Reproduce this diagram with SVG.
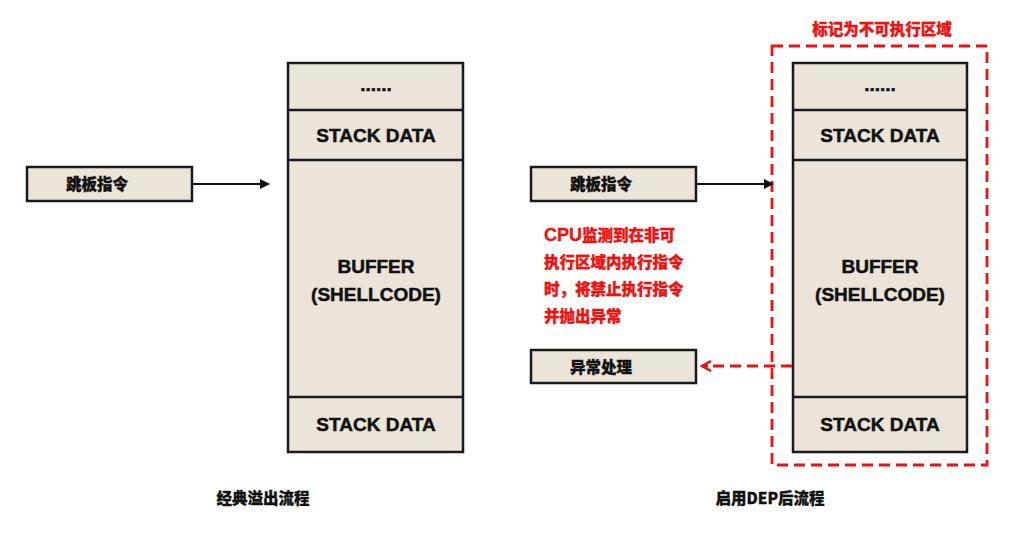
<svg xmlns="http://www.w3.org/2000/svg" width="1024" height="534" viewBox="0 0 1024 534">
<defs>
<style>
.box{fill:#EAE4D9;stroke:#1a1a1a;stroke-width:2.5}
.div{stroke:#1a1a1a;stroke-width:2.5}
.t{font-family:"Liberation Sans","Noto Sans CJK SC",Arial,sans-serif;font-weight:bold;fill:#111;stroke:#111;stroke-width:0.5;text-anchor:middle}
.cn{font-family:"Noto Sans CJK SC","Liberation Sans",sans-serif;font-weight:900;fill:#111;stroke:#111;stroke-width:0.3;text-anchor:middle}
.red{font-family:"Liberation Sans","Noto Sans CJK SC",sans-serif;font-weight:900;fill:#F01010;stroke:#F01010;stroke-width:0.3}
.conn{stroke:#111;stroke-width:2;fill:none}
.dash{stroke:#F01010;stroke-width:2.8;stroke-dasharray:11 6;fill:none}
</style>
<marker id="ah" markerWidth="10" markerHeight="10" refX="8" refY="5" orient="auto" markerUnits="userSpaceOnUse">
<path d="M0,0 L10,5 L0,10 Z" fill="#111"/>
</marker>
<marker id="ahr" markerWidth="12" markerHeight="12" refX="10" refY="6" orient="auto" markerUnits="userSpaceOnUse">
<path d="M1,1 L10,6 L1,11 M4,6 L10,6" fill="none" stroke="#F01010" stroke-width="2.4"/>
</marker>
</defs>
<rect width="1024" height="534" fill="#ffffff"/>

<g id="left-stack">
<rect class="box" x="288" y="63" width="175" height="389"/>
<line class="div" x1="288" y1="110" x2="463" y2="110"/>
<line class="div" x1="288" y1="160" x2="463" y2="160"/>
<line class="div" x1="288" y1="397" x2="463" y2="397"/>
<text class="t" x="376" y="91" font-size="19">......</text>
<text class="t" x="376" y="142" font-size="19">STACK DATA</text>
<text class="t" x="376" y="273" font-size="19">BUFFER</text>
<text class="t" x="376" y="301" font-size="19">(SHELLCODE)</text>
<text class="t" x="376" y="431" font-size="19">STACK DATA</text>
</g>

<g id="left-trampoline">
<rect class="box" x="27" y="167" width="165" height="34"/>
<text class="cn" x="97" y="190" font-size="15.5">跳板指令</text>
</g>

<g id="red-region">
<rect class="dash" x="772" y="46" width="215" height="419"/>
<text class="red" x="882" y="35" font-size="15.5" text-anchor="middle">标记为不可执行区域</text>
</g>

<g id="right-stack">
<rect class="box" x="793" y="63" width="174" height="389"/>
<line class="div" x1="793" y1="110" x2="967" y2="110"/>
<line class="div" x1="793" y1="160" x2="967" y2="160"/>
<line class="div" x1="793" y1="397" x2="967" y2="397"/>
<text class="t" x="880" y="91" font-size="19">......</text>
<text class="t" x="880" y="142" font-size="19">STACK DATA</text>
<text class="t" x="880" y="273" font-size="19">BUFFER</text>
<text class="t" x="880" y="301" font-size="19">(SHELLCODE)</text>
<text class="t" x="880" y="431" font-size="19">STACK DATA</text>
</g>

<g id="right-trampoline">
<rect class="box" x="531" y="167" width="165" height="34"/>
<text class="cn" x="601" y="190" font-size="15.5">跳板指令</text>
</g>

<g id="exception-handler">
<rect class="box" x="531" y="350" width="165" height="33"/>
<text class="cn" x="601" y="373" font-size="15.5">异常处理</text>
</g>

<g id="cpu-note">
<text class="red" x="544" y="241" font-size="15.5"><tspan font-size="18">CPU</tspan>监测到在非可</text>
<text class="red" x="544" y="268" font-size="15.5">执行区域内执行指令</text>
<text class="red" x="544" y="295" font-size="15.5">时，将禁止执行指令</text>
<text class="red" x="544" y="322" font-size="15.5">并抛出异常</text>
</g>

<g id="captions">
<text class="cn" x="263" y="504" font-size="15.5">经典溢出流程</text>
<text class="cn" x="770" y="504" font-size="15.5">启用DEP后流程</text>
</g>

<g id="connectors">
<line class="conn" x1="192" y1="184" x2="268" y2="184" marker-end="url(#ah)"/>
<line class="conn" x1="696" y1="184" x2="772" y2="184" marker-end="url(#ah)"/>
<line class="dash" x1="792" y1="366" x2="702" y2="366" marker-end="url(#ahr)"/>
</g>
</svg>
